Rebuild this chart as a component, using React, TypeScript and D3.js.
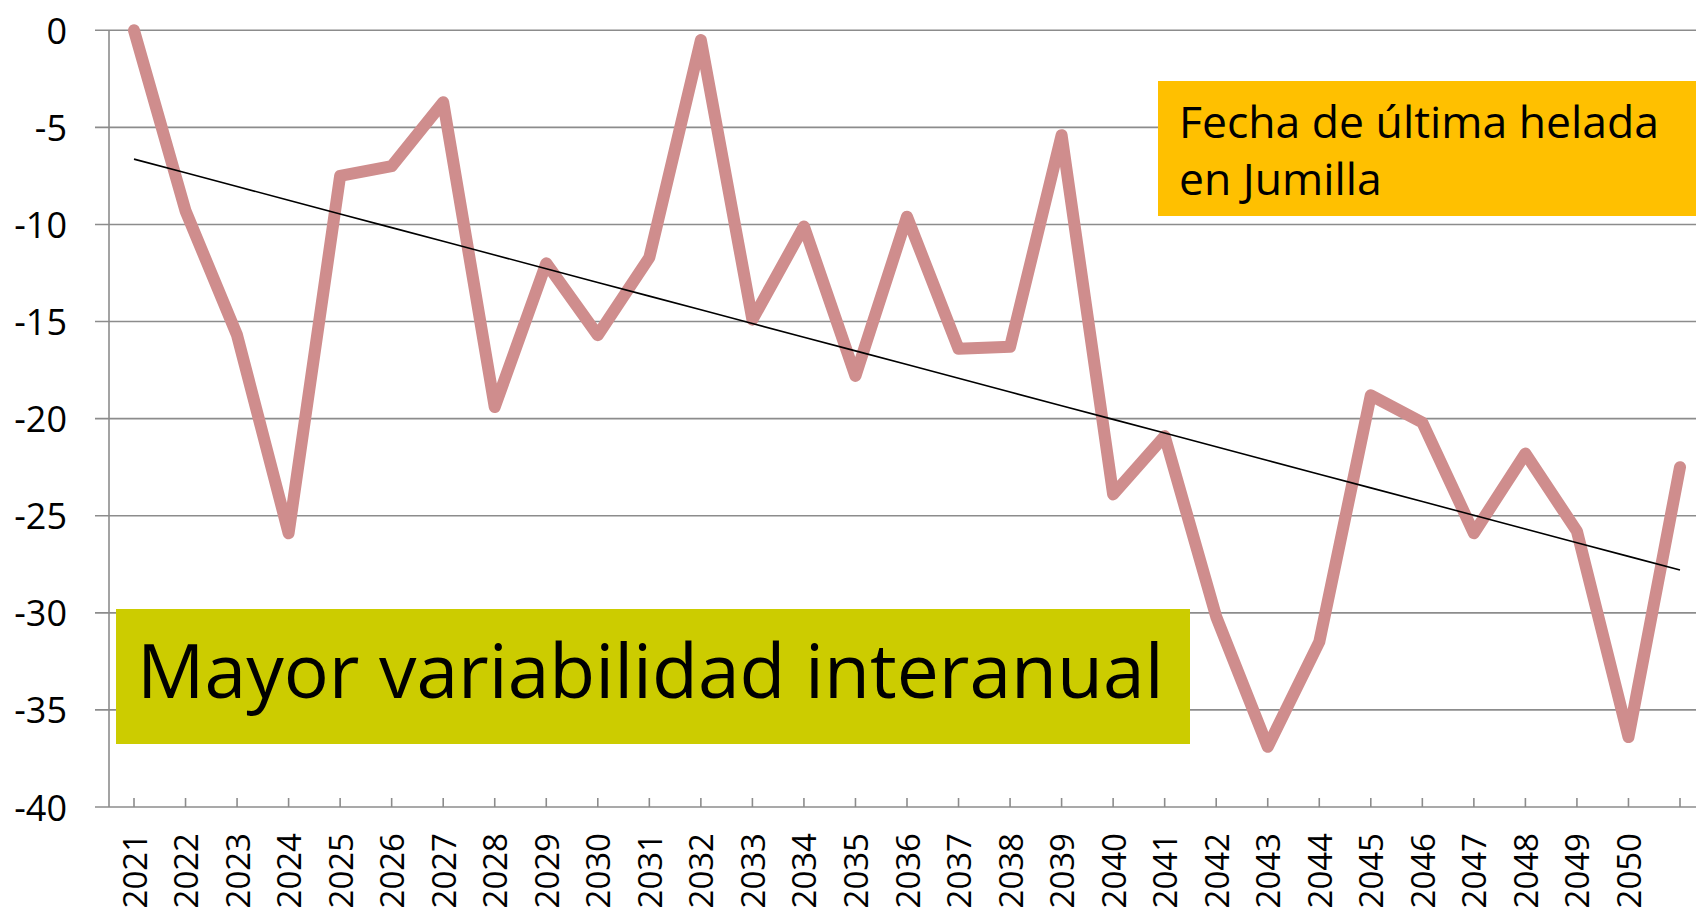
import * as d3 from "d3";

const WIDTH = 1696;
const HEIGHT = 908;
const FONT = "'Open Sans', 'Noto Sans', sans-serif";

// years on the category axis (2051 has a point but no label)
const years = d3.range(2021, 2052).map(String);
const labelYears = years.filter((y) => y !== "2051");

// days relative to reference date of last frost
const lastFrost = [
  0, -9.3, -15.7, -25.9, -7.5, -7.0, -3.7, -19.4, -12.0, -15.7, -11.7, -0.5,
  -14.9, -10.1, -17.8, -9.6, -16.4, -16.3, -5.4, -23.9, -20.9, -30.2, -36.9,
  -31.5, -18.8, -20.2, -25.9, -21.8, -25.8, -36.4, -22.5,
];

const yTicks = [0, -5, -10, -15, -20, -25, -30, -35, -40];

const X0 = 109; // y axis position
const Y_TOP = 30.3;
const Y_BOTTOM = 807;

// least squares trend (Excel linear trendline)
function trend(values: number[]) {
  const n = values.length;
  const xs = d3.range(n);
  const mx = d3.mean(xs) as number;
  const my = d3.mean(values) as number;
  let num = 0;
  let den = 0;
  xs.forEach((x, i) => {
    num += (x - mx) * (values[i] - my);
    den += (x - mx) * (x - mx);
  });
  const slope = num / den;
  return xs.map((x) => my + slope * (x - mx));
}

export default function App() {
  const xScale = d3.scalePoint().domain(years).range([134, 1680]);
  const yScale = d3.scaleLinear().domain([-40, 0]).range([Y_BOTTOM, Y_TOP]);

  const line = d3
    .line<number>()
    .x((_, i) => xScale(years[i]) as number)
    .y((d) => yScale(d));

  const trendValues = trend(lastFrost);

  return (
    <svg
      width={WIDTH}
      height={HEIGHT}
      style={{ position: "absolute", left: 0, top: 0, background: "#fff" }}
      fontFamily={FONT}
    >
      {/* grid + y labels */}
      {yTicks.map((t) => (
        <g key={t}>
          <line
            x1={95}
            x2={WIDTH}
            y1={yScale(t)}
            y2={yScale(t)}
            stroke="#8c8c8c"
            strokeWidth={1.6}
          />
          <text
            x={67}
            y={yScale(t)}
            textAnchor="end"
            dominantBaseline="central"
            fontSize={36}
            fill="#000"
          >
            {t}
          </text>
        </g>
      ))}
      {/* y axis */}
      <line x1={X0} x2={X0} y1={Y_TOP} y2={Y_BOTTOM} stroke="#8c8c8c" strokeWidth={1.6} />

      {/* x ticks + labels */}
      {years.map((y) => (
        <line
          key={y}
          x1={xScale(y)}
          x2={xScale(y)}
          y1={Y_BOTTOM}
          y2={Y_BOTTOM - 9}
          stroke="#8c8c8c"
          strokeWidth={1.6}
        />
      ))}
      {labelYears.map((y) => (
        <text
          key={y}
          transform={`translate(${xScale(y)}, 833) rotate(-90)`}
          textAnchor="end"
          dominantBaseline="central"
          fontSize={33}
          fill="#000"
        >
          {y}
        </text>
      ))}

      {/* annotation boxes */}
      <rect x={116} y={609} width={1074} height={135} fill="#cccc00" />
      <text x={137} y={698} fontSize={75} fill="#000">
        Mayor variabilidad interanual
      </text>

      <rect x={1158} y={81} width={WIDTH - 1158} height={135} fill="#ffc000" />
      <text x={1179} y={138} fontSize={44.5} fill="#000">
        Fecha de última helada
      </text>
      <text x={1179} y={195} fontSize={44.5} fill="#000">
        en Jumilla
      </text>

      {/* data line */}
      <path
        d={line(lastFrost) || ""}
        fill="none"
        stroke="#cf8d8d"
        strokeWidth={12}
        strokeLinejoin="round"
        strokeLinecap="round"
      />
      {/* trend line */}
      <path d={line(trendValues) || ""} fill="none" stroke="#000" strokeWidth={1.6} />
    </svg>
  );
}
